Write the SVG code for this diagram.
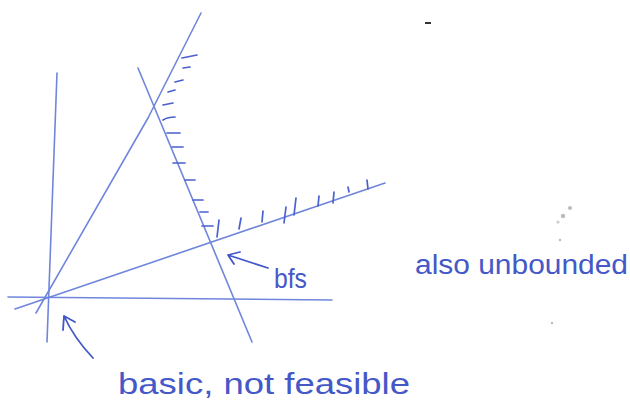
<svg xmlns="http://www.w3.org/2000/svg" width="630" height="412" viewBox="0 0 630 412">
<style>
.ln{fill:none;stroke:#6f86dc;stroke-width:1.6;stroke-linecap:round;stroke-linejoin:round}
.hatch{fill:none;stroke:#4a60d0;stroke-width:1.7;stroke-linecap:round}
.arr{fill:none;stroke:#4257c8;stroke-width:1.8;stroke-linecap:round;stroke-linejoin:round}
.txt{font-family:"Liberation Sans","DejaVu Sans",sans-serif;fill:#4558c8}
</style>
<rect width="630" height="412" fill="#ffffff"/>
<g id="connectors">
<path id="axis-y" class="ln" d="M57,73 L47,342"/>
<path id="axis-x" class="ln" d="M8,297 L332,300"/>
<path id="line-steep" class="ln" d="M36,313 L148,118 L201,13"/>
<path id="line-shallow" class="ln" d="M15,309 L385,183"/>
<path id="line-desc" class="ln" d="M138,68 L252,342"/>
<path id="hatch-upper" class="hatch" d="M182,58 L197,55 M183,68 L190,67 M175,82 L183,80 M168,92 L175,90 M163,105 L173,103 M163,120 Q168,117 175,117 M167,133 L180,133 M172,147 L183,147 M173,163 L185,163 M185,180 L195,180 M193,200 L203,200 M200,212 L208,212 M202,226 L213,226"/>
<path id="hatch-shallow" class="hatch" d="M219,220 L217,237 M241,218 L239,229 M263,211 L262,222 M286,207 L284,223 M296,198 L294,215 M319,196 L318,206 M334,192 L333,203 M348,187 L349,192 M367,180 L368,189"/>
<path id="arrow-bfs" class="arr" d="M268,268 L228,255 M240,252 L228,255 L234,264"/>
<path id="arrow-basic" class="arr" d="M93,358 Q74,338 64,316 M63,330 L64,316 L75,322"/>
</g>
<g id="label-bfs"><text class="txt" x="274" y="288" font-size="27" textLength="33" lengthAdjust="spacingAndGlyphs">bfs</text></g>
<g id="label-unbounded"><text class="txt" x="415" y="274" font-size="27" textLength="213" lengthAdjust="spacingAndGlyphs">also unbounded</text></g>
<g id="label-basic"><text class="txt" x="118" y="394" font-size="29" textLength="292" lengthAdjust="spacingAndGlyphs">basic, not feasible</text></g>
<g id="marks">
<path d="M425,23 L431,23" stroke="#333" stroke-width="2"/>
<circle cx="570" cy="208" r="2" fill="#bbb"/>
<circle cx="563" cy="216" r="2.2" fill="#bbb"/>
<circle cx="558" cy="222" r="1.6" fill="#ccc"/>
<circle cx="560" cy="240" r="1.2" fill="#bbb"/>
<circle cx="552" cy="323" r="1.2" fill="#bbb"/>
</g>
</svg>
